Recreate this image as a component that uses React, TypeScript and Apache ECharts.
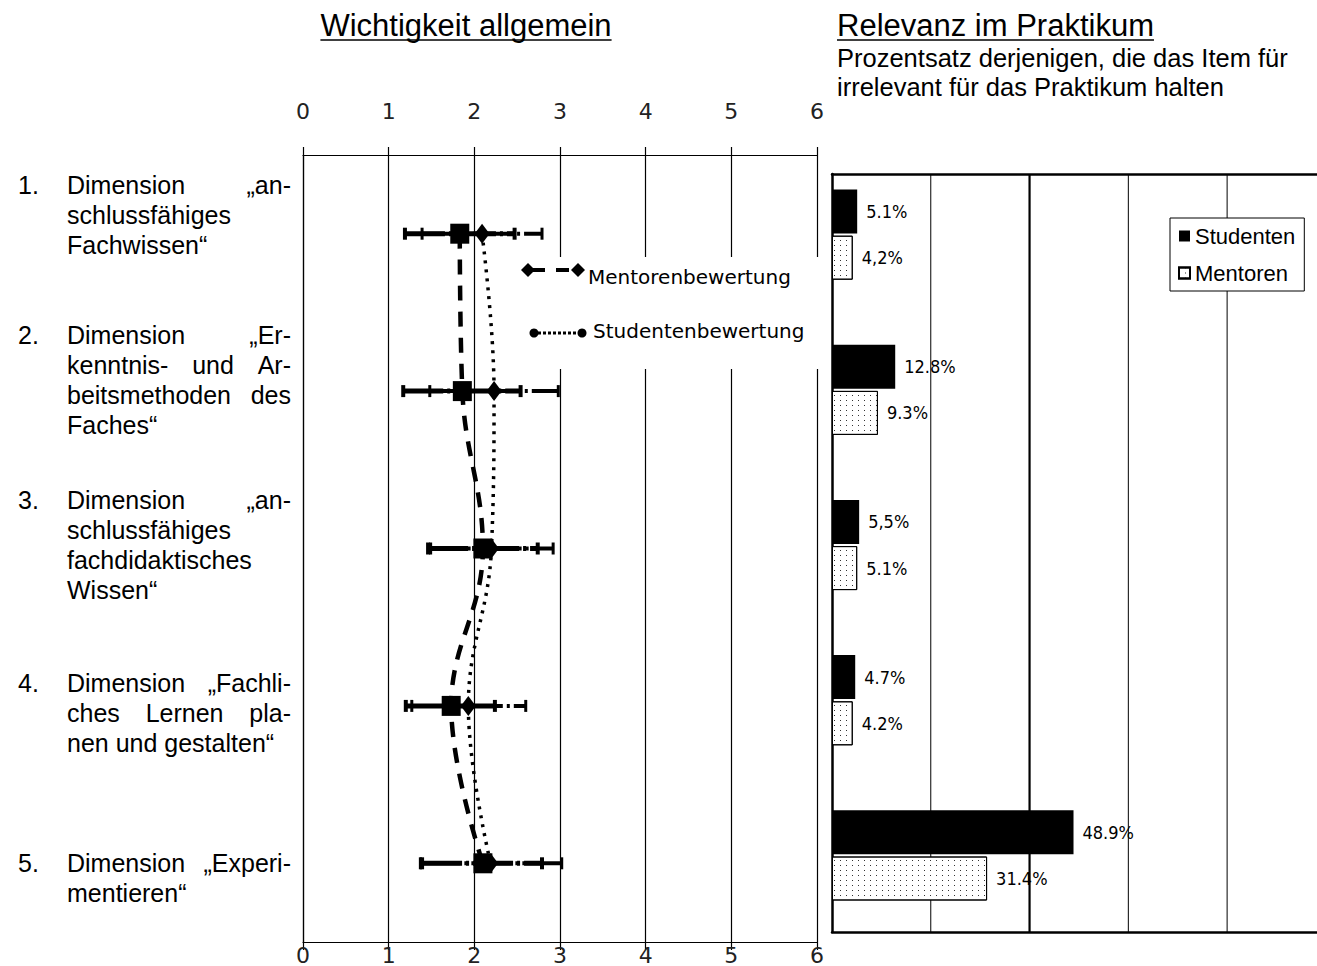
import React, { useEffect, useRef } from "react";
import * as echarts from "echarts";

// ---------- data ----------
const categories = [
  "anschlussfähiges Fachwissen",
  "Erkenntnis- und Arbeitsmethoden des Faches",
  "anschlussfähiges fachdidaktisches Wissen",
  "Fachliches Lernen planen und gestalten",
  "Experimentieren",
];
const categoryNumbers = ["1.", "2.", "3.", "4.", "5."];
// each category label: lines, each line = words to be justified
const categoryLines: string[][][] = [
  [["Dimension", "„an-"], ["schlussfähiges"], ["Fachwissen“"]],
  [["Dimension", "„Er-"], ["kenntnis-", "und", "Ar-"], ["beitsmethoden", "des"], ["Faches“"]],
  [["Dimension", "„an-"], ["schlussfähiges"], ["fachdidaktisches"], ["Wissen“"]],
  [["Dimension", "„Fachli-"], ["ches", "Lernen", "pla-"], ["nen und gestalten“"]],
  [["Dimension", "„Experi-"], ["mentieren“"]],
];

// Wichtigkeit allgemein (scale 0..6)
const squareMeans = [1.83, 1.86, 2.1, 1.73, 2.1];
const squareLow = [1.19, 1.17, 1.46, 1.2, 1.39];
const squareHigh = [2.47, 2.54, 2.74, 2.24, 2.79];
const diamondMeans = [2.09, 2.23, 2.2, 1.93, 2.19];
const diamondLow = [1.39, 1.48, 1.49, 1.27, 1.37];
const diamondHigh = [2.79, 2.98, 2.92, 2.6, 3.02];

// Relevanz im Praktikum (% irrelevant)
const irrelevantStudenten = [5.1, 12.8, 5.5, 4.7, 48.9];
const irrelevantMentoren = [4.2, 9.3, 5.1, 4.2, 31.4];
const studentenLabels = ["5.1%", "12.8%", "5,5%", "4.7%", "48.9%"];
const mentorenLabels = ["4,2%", "9.3%", "5.1%", "4.2%", "31.4%"];
const percentGridValues = [20, 40, 60, 80];
const percentGridWidths = [1, 2.2, 1, 1];

const leftLegend = ["Mentorenbewertung", "Studentenbewertung"];
const rightLegend = ["Studenten", "Mentoren"];

// ---------- layout ----------
const W = 1317;
const H = 966;
const SANS = "'Liberation Sans', Arial, sans-serif";
const DEJAVU = "'DejaVu Sans', sans-serif";
const NARROW = "'Liberation Sans Narrow', 'DejaVu Sans Condensed', 'Liberation Sans', sans-serif";

let measureCtx: CanvasRenderingContext2D | null = null;
function textWidth(t: string, size: number, family: string) {
  if (!measureCtx) measureCtx = document.createElement("canvas").getContext("2d");
  measureCtx!.font = `${size}px ${family}`;
  return measureCtx!.measureText(t).width;
}

function buildGraphics() {
  const g: any[] = [];
  const black = "#000";
  // titles
  const t1 = "Wichtigkeit allgemein";
  const t1w = textWidth(t1, 31, SANS);
  const t1cx = 466;
  g.push({ type: "text", x: t1cx, y: 25, style: { text: t1, fontSize: 31, fontFamily: SANS, fill: black, align: "center", verticalAlign: "middle" } });
  g.push({ type: "line", shape: { x1: t1cx - t1w / 2, y1: 40, x2: t1cx + t1w / 2, y2: 40 }, style: { stroke: black, lineWidth: 1.5 } });
  const t2 = "Relevanz im Praktikum";
  const t2w = textWidth(t2, 31, SANS);
  g.push({ type: "text", x: 837, y: 25, style: { text: t2, fontSize: 31, fontFamily: SANS, fill: black, align: "left", verticalAlign: "middle" } });
  g.push({ type: "line", shape: { x1: 837, y1: 40, x2: 837 + t2w, y2: 40 }, style: { stroke: black, lineWidth: 1.5 } });
  g.push({ type: "text", x: 837, y: 58, style: { text: "Prozentsatz derjenigen, die das Item für", fontSize: 25.5, fontFamily: SANS, fill: black, align: "left", verticalAlign: "middle" } });
  g.push({ type: "text", x: 837, y: 87, style: { text: "irrelevant für das Praktikum halten", fontSize: 25.5, fontFamily: SANS, fill: black, align: "left", verticalAlign: "middle" } });

  // category labels (justified)
  const blockTop = [185, 335, 500, 683, 863];
  const x0 = 67;
  const x1 = 291;
  const fs = 25;
  categoryLines.forEach((lines, ci) => {
    g.push({ type: "text", x: 18, y: blockTop[ci], style: { text: categoryNumbers[ci], fontSize: fs, fontFamily: SANS, fill: black, align: "left", verticalAlign: "middle" } });
    lines.forEach((words, li) => {
      const y = blockTop[ci] + li * 30;
      if (words.length === 1) {
        g.push({ type: "text", x: x0, y, style: { text: words[0], fontSize: fs, fontFamily: SANS, fill: black, align: "left", verticalAlign: "middle" } });
        return;
      }
      const widths = words.map((w) => textWidth(w, fs, SANS));
      const total = widths.reduce((a, b) => a + b, 0);
      const gap = (x1 - x0 - total) / (words.length - 1);
      let x = x0;
      words.forEach((w, wi) => {
        g.push({ type: "text", x, y, style: { text: w, fontSize: fs, fontFamily: SANS, fill: black, align: "left", verticalAlign: "middle" } });
        x += widths[wi] + gap;
      });
    });
  });

  // left legend (white box over grid)
  g.push({ type: "rect", z: 100, shape: { x: 515, y: 257, width: 315, height: 112 }, style: { fill: "#fff" } });
  const dia = (cx: number, cy: number) => ({
    type: "polygon", z: 101,
    shape: { points: [[cx, cy - 7], [cx + 7, cy], [cx, cy + 7], [cx - 7, cy]] },
    style: { fill: black },
  });
  g.push({ type: "line", z: 101, shape: { x1: 532, y1: 270, x2: 574, y2: 270 }, style: { stroke: black, lineWidth: 4, lineDash: [13, 11] } });
  g.push(dia(528, 270));
  g.push(dia(578, 270));
  g.push({ type: "text", z: 101, x: 588, y: 277, style: { text: leftLegend[0], fontSize: 20, fontFamily: DEJAVU, fill: black, align: "left", verticalAlign: "middle" } });
  g.push({ type: "line", z: 101, shape: { x1: 538, y1: 333, x2: 578, y2: 333 }, style: { stroke: black, lineWidth: 3, lineDash: [3, 2] } });
  g.push({ type: "circle", z: 101, shape: { cx: 534, cy: 333, r: 4.5 }, style: { fill: black } });
  g.push({ type: "circle", z: 101, shape: { cx: 582, cy: 333, r: 4.5 }, style: { fill: black } });
  g.push({ type: "text", z: 101, x: 593, y: 331, style: { text: leftLegend[1], fontSize: 20, fontFamily: DEJAVU, fill: black, align: "left", verticalAlign: "middle" } });
  // the right chart is cut off at the picture edge: no closing border
  g.push({ type: "rect", z: 200, shape: { x: 1312, y: 177, width: 6, height: 753 }, style: { fill: "#fff" } });
  return g;
}

function errorBarSeries(name: string, low: number[], high: number[], width: number, capWidth: number) {
  return {
    type: "custom",
    name,
    xAxisIndex: 1,
    yAxisIndex: 0,
    z: 3,
    silent: true,
    encode: { x: [0, 1], y: 2 },
    data: low.map((l, i) => [l, high[i], i]),
    renderItem: (_params: any, api: any) => {
      const lo = api.coord([api.value(0), api.value(2)]);
      const hi = api.coord([api.value(1), api.value(2)]);
      const h = 6;
      return {
        type: "group",
        children: [
          { type: "line", shape: { x1: lo[0], y1: lo[1], x2: hi[0], y2: hi[1] }, style: { stroke: "#000", lineWidth: width, lineDash: [40, 4, 3, 4] } },
          { type: "line", shape: { x1: lo[0], y1: lo[1] - h, x2: lo[0], y2: lo[1] + h }, style: { stroke: "#000", lineWidth: capWidth } },
          { type: "line", shape: { x1: hi[0], y1: hi[1] - h, x2: hi[0], y2: hi[1] + h }, style: { stroke: "#000", lineWidth: capWidth } },
        ],
      };
    },
  };
}

export default function App() {
  const ref = useRef<HTMLDivElement>(null);
  useEffect(() => {
    if (!ref.current) return;
    const chart = echarts.init(ref.current, null, { renderer: "svg" });
    const axisBlack = { lineStyle: { color: "#000", width: 1.2 } };
    const tickFont = { fontSize: 22, fontFamily: DEJAVU, color: "#222" };
    const rightMax = 98.2; // the chart is cut off at the right edge of the picture
    const option: any = {
      animation: false,
      backgroundColor: "#fff",
      grid: [
        { left: 303, top: 155, width: 514, height: 787 },
        { left: 832, top: 157, width: 485, height: 776 },
        { left: 832, top: 174, width: 485, height: 758 },
      ],
      xAxis: [
        {
          gridIndex: 0, type: "value", position: "top", min: 0, max: 6, interval: 1,
          axisLine: { show: true, onZero: false, ...axisBlack },
          axisTick: { show: true, length: 8, inside: false, ...axisBlack },
          axisLabel: { margin: 33, ...tickFont },
          splitLine: { show: false },
        },
        {
          gridIndex: 0, type: "value", position: "bottom", min: 0, max: 6, interval: 1,
          axisLine: { show: true, onZero: false, ...axisBlack },
          axisTick: { show: true, length: 8, inside: false, ...axisBlack },
          axisLabel: { margin: 2, ...tickFont },
          splitLine: { show: true, lineStyle: { color: "#000", width: 1.2 } },
        },
        { gridIndex: 1, type: "value", min: 0, max: rightMax, show: false },
        {
          gridIndex: 2, type: "value", position: "bottom", min: 0, max: rightMax, interval: 20,
          axisLine: { show: true, onZero: false, lineStyle: { color: "#000", width: 2.5 } },
          axisTick: { show: false }, axisLabel: { show: false },
          splitLine: { show: false },
        },
        {
          gridIndex: 2, type: "value", position: "top", min: 0, max: rightMax, interval: 20,
          axisLine: { show: true, onZero: false, lineStyle: { color: "#000", width: 2.5 } },
          axisTick: { show: false }, axisLabel: { show: false }, splitLine: { show: false },
        },
      ],
      yAxis: [
        {
          gridIndex: 0, type: "category", inverse: true, data: categories,
          axisLine: { show: true, onZero: false, ...axisBlack },
          axisTick: { show: false }, axisLabel: { show: false }, splitLine: { show: false },
        },
        { gridIndex: 1, type: "category", inverse: true, data: categories, show: false },
        {
          gridIndex: 2, type: "value", min: 0, max: 1,
          axisLine: { show: true, onZero: false, lineStyle: { color: "#000", width: 2.5 } },
          axisTick: { show: false }, axisLabel: { show: false }, splitLine: { show: false },
        },
      ],
      legend: {
        data: rightLegend,
        orient: "vertical",
        left: 1170,
        top: 218,
        itemWidth: 11,
        itemHeight: 11,
        itemGap: 15,
        padding: [7, 9, 7, 8],
        borderColor: "#000",
        borderWidth: 1,
        backgroundColor: "#fff",
        icon: "rect",
        textStyle: { fontSize: 22, fontFamily: SANS, color: "#000" },
      },
      graphic: buildGraphics(),
      series: [
        {
          type: "custom", name: "percent-grid", xAxisIndex: 3, yAxisIndex: 2, silent: true, z: 1,
          data: percentGridValues.map((v, i) => [v, percentGridWidths[i]]),
          encode: { x: 0 },
          renderItem: (_p: any, api: any) => {
            const top = api.coord([api.value(0), 1]);
            const bot = api.coord([api.value(0), 0]);
            return { type: "line", shape: { x1: top[0], y1: top[1], x2: bot[0], y2: bot[1] }, style: { stroke: "#000", lineWidth: api.value(1) } };
          },
        },
        errorBarSeries("err-square", squareLow, squareHigh, 5, 4),
        errorBarSeries("err-diamond", diamondLow, diamondHigh, 4, 3),
        {
          type: "line", name: leftLegend[1], xAxisIndex: 1, yAxisIndex: 0, z: 4,
          data: squareMeans, smooth: 0.4,
          symbol: "rect", symbolSize: [19, 20],
          itemStyle: { color: "#000" },
          lineStyle: { color: "#000", width: 4.5, type: [15, 11] },
        },
        {
          type: "line", name: leftLegend[0], xAxisIndex: 1, yAxisIndex: 0, z: 5,
          data: diamondMeans, smooth: 0.4,
          symbol: "diamond", symbolSize: [15, 20],
          itemStyle: { color: "#000" },
          lineStyle: { color: "#000", width: 3.5, type: [3, 6] },
        },
        {
          type: "bar", name: rightLegend[0], xAxisIndex: 2, yAxisIndex: 1, z: 3,
          data: irrelevantStudenten, barWidth: 44, barGap: "5%",
          itemStyle: { color: "#000" },
          label: {
            show: true, position: "right", distance: 9, color: "#000", fontSize: 18, fontFamily: NARROW,
            formatter: (p: any) => studentenLabels[p.dataIndex],
          },
        },
        {
          type: "bar", name: rightLegend[1], xAxisIndex: 2, yAxisIndex: 1, z: 3,
          data: irrelevantMentoren, barWidth: 44, barGap: "5%",
          itemStyle: {
            color: "#fff", borderColor: "#000", borderWidth: 1,
            decal: { symbol: "rect", symbolSize: 1, color: "#333", backgroundColor: "#fff", dashArrayX: [1, 5], dashArrayY: [1, 4], rotation: 0 },
          },
          label: {
            show: true, position: "right", distance: 9, color: "#000", fontSize: 18, fontFamily: NARROW,
            formatter: (p: any) => mentorenLabels[p.dataIndex],
          },
        },
      ],
    };
    chart.setOption(option);
    return () => chart.dispose();
  }, []);
  return <div ref={ref} style={{ position: "absolute", left: 0, top: 0, width: W, height: H, background: "#fff" }} />;
}
